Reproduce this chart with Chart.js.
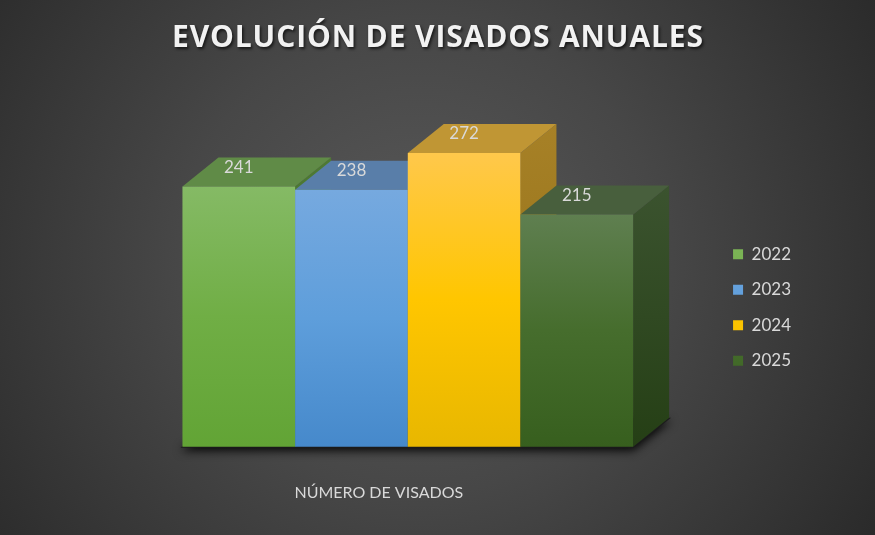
<!DOCTYPE html>
<html>
<head>
<meta charset="utf-8">
<title>Evolución de visados anuales</title>
<script src="https://cdn.jsdelivr.net/npm/chart.js@4.4.1/dist/chart.umd.min.js"></script>
<style>
   html, body { margin: 0; padding: 0; }
   body {
      width: 875px;
      height: 535px;
      overflow: hidden;
      background: radial-gradient(ellipse 540px 520px at 420px 260px, #595959 0%, #474747 45%, #2a2a2a 100%);
   }
</style>
</head>
<body>
<canvas id="visadosChart" width="875" height="535"></canvas>
<script>
const chartTitle = 'EVOLUCIÓN DE VISADOS ANUALES';
const categories = ['NÚMERO DE VISADOS'];
const years = ['2022', '2023', '2024', '2025'];
const visados = [241, 238, 272, 215];

// colours per year (legend / front face gradient / top / side)
const legendColors = ['#70ad47', '#5b9bd5', '#ffc000', '#43682b'];
const frontTop = ['#85ba65', '#76a9df', '#ffc84b', '#5f7f50'];
const frontMid = ['#70ae45', '#5e9edb', '#ffc600', '#466d2d'];
const frontBottom = ['#62a435', '#4689cb', '#e8b700', '#375f1e'];
const topColors = ['#608b47', '#597ea9', '#c09634', '#485f3d'];
const sideTop = ['#4e7a33', '#47719f', '#a78127', '#3b532f'];
const sideBottom = ['#3d6a25', '#33608e', '#8e6c12', '#253f15'];

const depthX = 36;
const depthY = 29;
const textColor = '#d9d9d9';

function frontGradient(c) {
   const i = c.datasetIndex;
   const chart = c.chart;
   if (!chart.chartArea || c.type !== 'data') return legendColors[i];
   const y = chart.scales.y;
   const g = chart.ctx.createLinearGradient(0, y.getPixelForValue(c.parsed.y), 0, y.getPixelForValue(0));
   g.addColorStop(0, frontTop[i]);
   g.addColorStop(0.5, frontMid[i]);
   g.addColorStop(1, frontBottom[i]);
   return g;
}

// draws the depth faces and the front faces left to right
const bars3d = {
   id: 'bars3d',
   beforeDatasetsDraw(chart) {
      const ctx = chart.ctx;
      const metas = chart.getSortedVisibleDatasetMetas().slice().sort((a, b) => a.index - b.index);
      const first = metas[0].data[0];
      const last = metas[metas.length - 1].data[0];
      const left = first.x - first.width / 2;
      const right = last.x + last.width / 2;
      const base = first.base;

      // floor shadow
      ctx.save();
      ctx.shadowColor = 'rgba(0,0,0,0.9)';
      ctx.shadowBlur = 10;
      ctx.shadowOffsetY = 3;
      ctx.fillStyle = '#1c1c1c';
      ctx.beginPath();
      ctx.moveTo(left - 2, base + 1);
      ctx.lineTo(right, base + 1);
      ctx.lineTo(right + depthX + 2, base - depthY);
      ctx.lineTo(left + depthX, base - depthY);
      ctx.closePath();
      ctx.fill();
      ctx.restore();

      metas.forEach(meta => {
         const i = meta.index;
         meta.data.forEach(bar => {
            const l = bar.x - bar.width / 2;
            const r = bar.x + bar.width / 2;
            const t = bar.y;
            const b = bar.base;

            ctx.save();
            const sg = ctx.createLinearGradient(0, t - depthY, 0, b);
            sg.addColorStop(0, sideTop[i]);
            sg.addColorStop(1, sideBottom[i]);
            ctx.fillStyle = sg;
            ctx.beginPath();
            ctx.moveTo(r, t);
            ctx.lineTo(r + depthX, t - depthY);
            ctx.lineTo(r + depthX, b - depthY);
            ctx.lineTo(r, b);
            ctx.closePath();
            ctx.fill();

            ctx.fillStyle = topColors[i];
            ctx.beginPath();
            ctx.moveTo(l, t);
            ctx.lineTo(r, t);
            ctx.lineTo(r + depthX, t - depthY);
            ctx.lineTo(l + depthX, t - depthY);
            ctx.closePath();
            ctx.fill();
            ctx.restore();

            bar.draw(ctx, chart.chartArea);
         });
      });
   },
   beforeDatasetDraw() {
      return false;
   },
   afterDatasetsDraw(chart) {
      const ctx = chart.ctx;
      ctx.save();
      ctx.font = '17px Lato';
      ctx.fillStyle = textColor;
      ctx.textAlign = 'center';
      ctx.textBaseline = 'middle';
      chart.data.datasets.forEach((ds, i) => {
         chart.getDatasetMeta(i).data.forEach((bar, j) => {
            ctx.fillText(String(ds.data[j]), bar.x, bar.y - 19);
         });
      });
      ctx.restore();
   },
   afterDraw(chart) {
      const ctx = chart.ctx;
      ctx.save();
      ctx.font = 'bold 30px "Open Sans"';
      const plain = ctx.measureText(chartTitle).width;
      const spacing = (531 - plain) / (chartTitle.length - 1);
      ctx.letterSpacing = spacing + 'px';
      ctx.fillStyle = '#f2f2f2';
      ctx.textAlign = 'center';
      ctx.textBaseline = 'alphabetic';
      ctx.shadowColor = 'rgba(0,0,0,0.65)';
      ctx.shadowBlur = 3;
      ctx.shadowOffsetX = 1.5;
      ctx.shadowOffsetY = 2;
      ctx.fillText(chartTitle, chart.width / 2 + spacing / 2, 47);
      ctx.restore();
   }
};

const datasets = years.map((year, i) => ({
   label: year,
   data: [visados[i]],
   backgroundColor: frontGradient,
   borderWidth: 0,
   categoryPercentage: 0.7345,
   barPercentage: 1
}));

new Chart(document.getElementById('visadosChart'), {
   type: 'bar',
   data: {
      labels: categories,
      datasets: datasets
   },
   options: {
      responsive: false,
      animation: false,
      layout: {
         padding: { top: 113, left: 101, right: 74, bottom: 33 }
      },
      scales: {
         x: {
            grid: { display: false, drawTicks: true, tickLength: 36 },
            border: { display: false },
            ticks: {
               color: textColor,
               font: { family: 'Lato', size: 16 },
               padding: 0,
               labelOffset: -29
            }
         },
         y: {
            display: false,
            min: 0,
            max: 309
         }
      },
      plugins: {
         title: { display: false },
         tooltip: { enabled: false },
         legend: {
            position: 'right',
            align: 'center',
            labels: {
               boxWidth: 10,
               boxHeight: 10,
               padding: 18.5,
               color: textColor,
               font: { family: 'Lato', size: 17 }
            }
         }
      }
   },
   plugins: [bars3d]
});
</script>
</body>
</html>
